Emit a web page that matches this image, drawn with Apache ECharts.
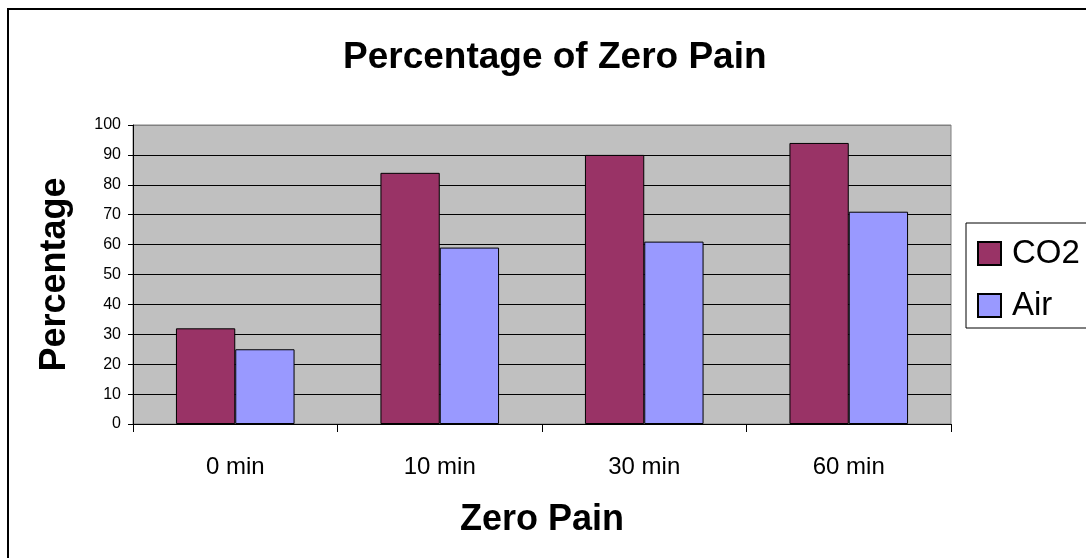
<!DOCTYPE html>
<html>
<head>
<meta charset="utf-8">
<script src="https://cdn.jsdelivr.net/npm/echarts@6/dist/echarts.min.js"></script>
<style>html,body{margin:0;padding:0;background:#fff;}#c{width:1086px;height:558px;}</style>
</head>
<body>
<div id="c"></div>
<script>
var categories = ['0 min', '10 min', '30 min', '60 min'];
var co2Values = [32, 84, 90, 94];
var airValues = [25, 59, 61, 71];
var yTicks = {min: 0, max: 100, interval: 10};

var font = 'Liberation Sans, Arial, sans-serif';
var splitColors = [];
for (var i = 0; i <= 10; i++) splitColors.push(i === 10 ? '#808080' : '#000000');

var chart = echarts.init(document.getElementById('c'), null, {renderer: 'canvas'});
chart.setOption({
  animation: false,
  backgroundColor: '#ffffff',
  title: {
    text: 'Percentage of Zero Pain',
    left: 338,
    top: 34,
    textStyle: {fontFamily: font, fontSize: 37, fontWeight: 'bold', color: '#000'}
  },
  graphic: [{
    type: 'rect',
    shape: {x: 8, y: 9, width: 1100, height: 600},
    style: {fill: 'none', stroke: '#000', lineWidth: 2},
    silent: true
  }],
  legend: {
    orient: 'vertical',
    left: 966,
    top: 223,
    padding: [14, 20, 6, 11],
    itemWidth: 23,
    itemHeight: 23,
    itemGap: 19,
    borderColor: '#000',
    borderWidth: 1,
    backgroundColor: '#fff',
    icon: 'rect',
    textStyle: {fontFamily: font, fontSize: 33, color: '#000', padding: [0, 0, 0, 6]},
    data: ['CO2', 'Air']
  },
  grid: {
    left: 133, right: 135, top: 125, bottom: 134,
    show: true, backgroundColor: '#C0C0C0', borderColor: '#808080', borderWidth: 1
  },
  xAxis: {
    type: 'category',
    data: categories,
    name: 'Zero Pain',
    nameLocation: 'middle',
    nameGap: 78,
    nameTextStyle: {fontFamily: font, fontSize: 36, fontWeight: 'bold', color: '#000'},
    axisLine: {show: true, lineStyle: {color: '#000', width: 1}},
    axisTick: {show: true, length: 8, lineStyle: {color: '#000'}},
    axisLabel: {fontFamily: font, fontSize: 24, color: '#000', margin: 31},
    splitLine: {show: false}
  },
  yAxis: {
    type: 'value',
    min: yTicks.min, max: yTicks.max, interval: yTicks.interval,
    name: 'Percentage',
    nameLocation: 'middle',
    nameRotate: 90,
    nameGap: 60,
    nameTextStyle: {fontFamily: font, fontSize: 36, fontWeight: 'bold', color: '#000'},
    axisLine: {show: true, lineStyle: {color: '#000', width: 1}},
    axisTick: {show: true, length: 5, lineStyle: {color: '#000'}},
    axisLabel: {fontFamily: font, fontSize: 16, color: '#000', margin: 12},
    splitLine: {show: true, lineStyle: {color: splitColors, width: 1}}
  },
  series: [
    {
      name: 'CO2', type: 'bar', data: co2Values,
      barGap: '0%', barCategoryGap: '42%',
      itemStyle: {color: '#993366', borderColor: '#000', borderWidth: 1}
    },
    {
      name: 'Air', type: 'bar', data: airValues,
      barGap: '0%', barCategoryGap: '42%',
      itemStyle: {color: '#9999FF', borderColor: '#000', borderWidth: 1}
    }
  ]
});
</script>
</body>
</html>
